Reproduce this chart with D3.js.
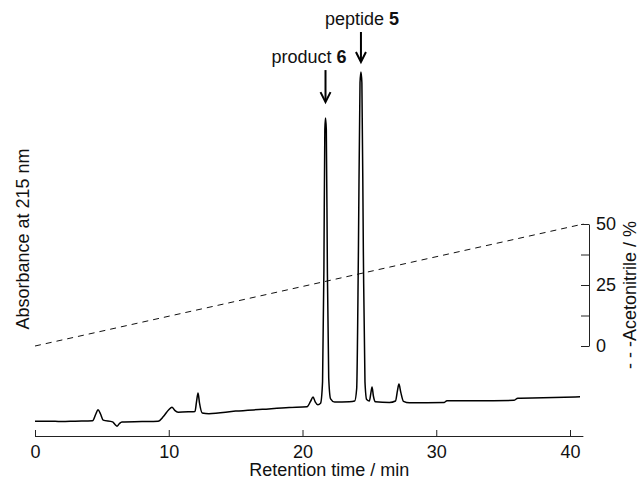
<!DOCTYPE html>
<html>
<head>
<meta charset="utf-8">
<script src="https://cdn.jsdelivr.net/npm/d3@7"></script>
<style>
  body { margin: 0; background: #fff; }
  text { font-family: "Liberation Sans", Arial, sans-serif; fill: #111; }
</style>
</head>
<body>
<div id="chart"></div>
<script>
// chromatogram trace (time in min, absorbance in arbitrary units)
var traceTime = [0, 1.5, 2.0, 3.0, 4.3, 4.55, 4.71, 4.9, 5.1, 5.8, 6.0, 6.13, 6.3, 6.5,
  8.0, 9.2, 9.6, 10.0, 10.24, 10.45, 10.7, 11.5, 11.96, 12.08, 12.19, 12.3, 12.5,
  13.0, 15.0, 17.0, 19.0, 20.34, 20.6, 20.79, 20.95, 21.15, 21.35, 21.5, 21.6, 21.67,
  21.72, 21.78, 21.86, 21.96, 22.1, 22.4, 23.5, 23.9, 24.05, 24.18, 24.3, 24.37, 24.44,
  24.55, 24.67, 24.8, 25.0, 25.1, 25.2, 25.3, 25.45, 26.5, 26.95, 27.1, 27.21, 27.35,
  27.55, 28.0, 30.6, 30.8, 33.0, 35.8, 36.1, 38.0, 40.75];
var traceAbs = [3.0, 3.0, 2.9, 3.0, 3.1, 5.0, 6.2, 5.0, 3.3, 2.8, 2.0, 1.6, 2.3, 2.8,
  2.9, 3.0, 4.3, 6.2, 6.9, 6.0, 5.5, 5.6, 5.7, 8.5, 10.8, 8.0, 5.3,
  5.1, 5.8, 6.3, 6.8, 7.0, 8.5, 9.7, 8.4, 7.6, 8.0, 14, 45, 84,
  87.2, 84, 45, 15, 9.2, 8.3, 8.4, 8.6, 12, 50, 97, 100, 97,
  50, 14, 9.0, 8.6, 10.5, 12.5, 10, 8.4, 8.2, 8.6, 11.5, 13.3, 11,
  8.5, 8.1, 8.2, 8.7, 8.7, 8.8, 9.4, 9.5, 9.8];

// acetonitrile gradient
var gradTime = [0, 41];
var gradAcn = [0, 50];

var timeTicks = [0, 10, 20, 30, 40];
var acnTicks = [0, 12.5, 25, 37.5, 50];
var acnLabels = [0, 25, 50];

// peak annotations
var peakNames = ["product ", "peptide "];
var peakNums = ["6", "5"];
var peakTimes = [21.72, 24.37];
var peakTops = [87.2, 100];

var width = 640, height = 481, fs = '18px';

var svg = d3.select('#chart')
  .append('svg')
  .attr('width', width)
  .attr('height', height);

var x = d3.scaleLinear().domain([0, 40]).range([35, 570]);
var y = d3.scaleLinear().domain([0, 100]).range([432, 72]);
var yAcn = d3.scaleLinear().domain([0, 50]).range([346, 224]);

// bottom axis
var xAxis = d3.axisBottom(x)
  .tickValues(timeTicks)
  .tickSize(-6)
  .tickPadding(9)
  .tickSizeOuter(0);
var gx = svg.append('g')
  .attr('transform', 'translate(0,436)')
  .call(xAxis);
gx.select('.domain').attr('d', 'M' + x(0) + ',0.5H' + x(41));
gx.selectAll('line').attr('stroke', '#222');
gx.select('.domain').attr('stroke', '#222');
gx.selectAll('text').style('font-size', fs);

svg.append('text')
  .attr('x', (x(0) + x(41)) / 2 + 20)
  .attr('y', 476)
  .attr('text-anchor', 'middle')
  .style('font-size', fs)
  .text('Retention time / min');

// right acetonitrile axis
var yAxis = d3.axisRight(yAcn)
  .tickValues(acnTicks)
  .tickSize(-8)
  .tickPadding(7)
  .tickSizeOuter(0)
  .tickFormat(function(d) { return acnLabels.indexOf(d) >= 0 ? d : ''; });
var gy = svg.append('g')
  .attr('transform', 'translate(589,0)')
  .call(yAxis);
gy.selectAll('line').attr('stroke', '#222');
gy.select('.domain').attr('stroke', '#222');
gy.selectAll('text').style('font-size', fs);

svg.append('text')
  .attr('transform', 'translate(636,295) rotate(-90)')
  .attr('text-anchor', 'middle')
  .style('font-size', fs)
  .text('- - -Acetonitrile / %');

svg.append('text')
  .attr('transform', 'translate(29,239) rotate(-90)')
  .attr('text-anchor', 'middle')
  .style('font-size', fs)
  .text('Absorbance at 215 nm');

// gradient line
var grad = gradTime.map(function(t, i) { return [t, gradAcn[i]]; });
svg.append('path')
  .datum(grad)
  .attr('fill', 'none')
  .attr('stroke', '#111')
  .attr('stroke-width', 1)
  .attr('stroke-dasharray', '6,5')
  .attr('d', d3.line()
    .x(function(d) { return x(d[0]); })
    .y(function(d) { return yAcn(d[1]); }));

// chromatogram
var trace = traceTime.map(function(t, i) { return [t, traceAbs[i]]; });
svg.append('path')
  .datum(trace)
  .attr('fill', 'none')
  .attr('stroke', '#000')
  .attr('stroke-width', 1.5)
  .attr('stroke-linejoin', 'round')
  .attr('d', d3.line()
    .curve(d3.curveMonotoneX)
    .x(function(d) { return x(d[0]); })
    .y(function(d) { return y(d[1]); }));

// arrows and labels: offsets above each peak top
var arrowFrom = [48, 40], arrowTo = [16, 10], textAbove = [55, 47];
var textAnchor = ['end', 'middle'], textShift = [21, 1];

peakTimes.forEach(function(t, i) {
  var px = x(t), top = y(peakTops[i]);
  var tip = top - arrowTo[i];
  svg.append('line')
    .attr('x1', px).attr('x2', px)
    .attr('y1', top - arrowFrom[i]).attr('y2', tip - 1)
    .attr('stroke', '#000')
    .attr('stroke-width', 2);
  svg.append('path')
    .attr('d', 'M' + (px - 5) + ',' + (tip - 10) + 'L' + px + ',' + tip + 'L' + (px + 5) + ',' + (tip - 10))
    .attr('fill', 'none')
    .attr('stroke', '#000')
    .attr('stroke-width', 2);
  var lbl = svg.append('text')
    .attr('x', px + textShift[i])
    .attr('y', top - textAbove[i])
    .attr('text-anchor', textAnchor[i])
    .style('font-size', fs);
  lbl.append('tspan').text(peakNames[i]);
  lbl.append('tspan').style('font-weight', 'bold').text(peakNums[i]);
});
</script>
</body>
</html>
